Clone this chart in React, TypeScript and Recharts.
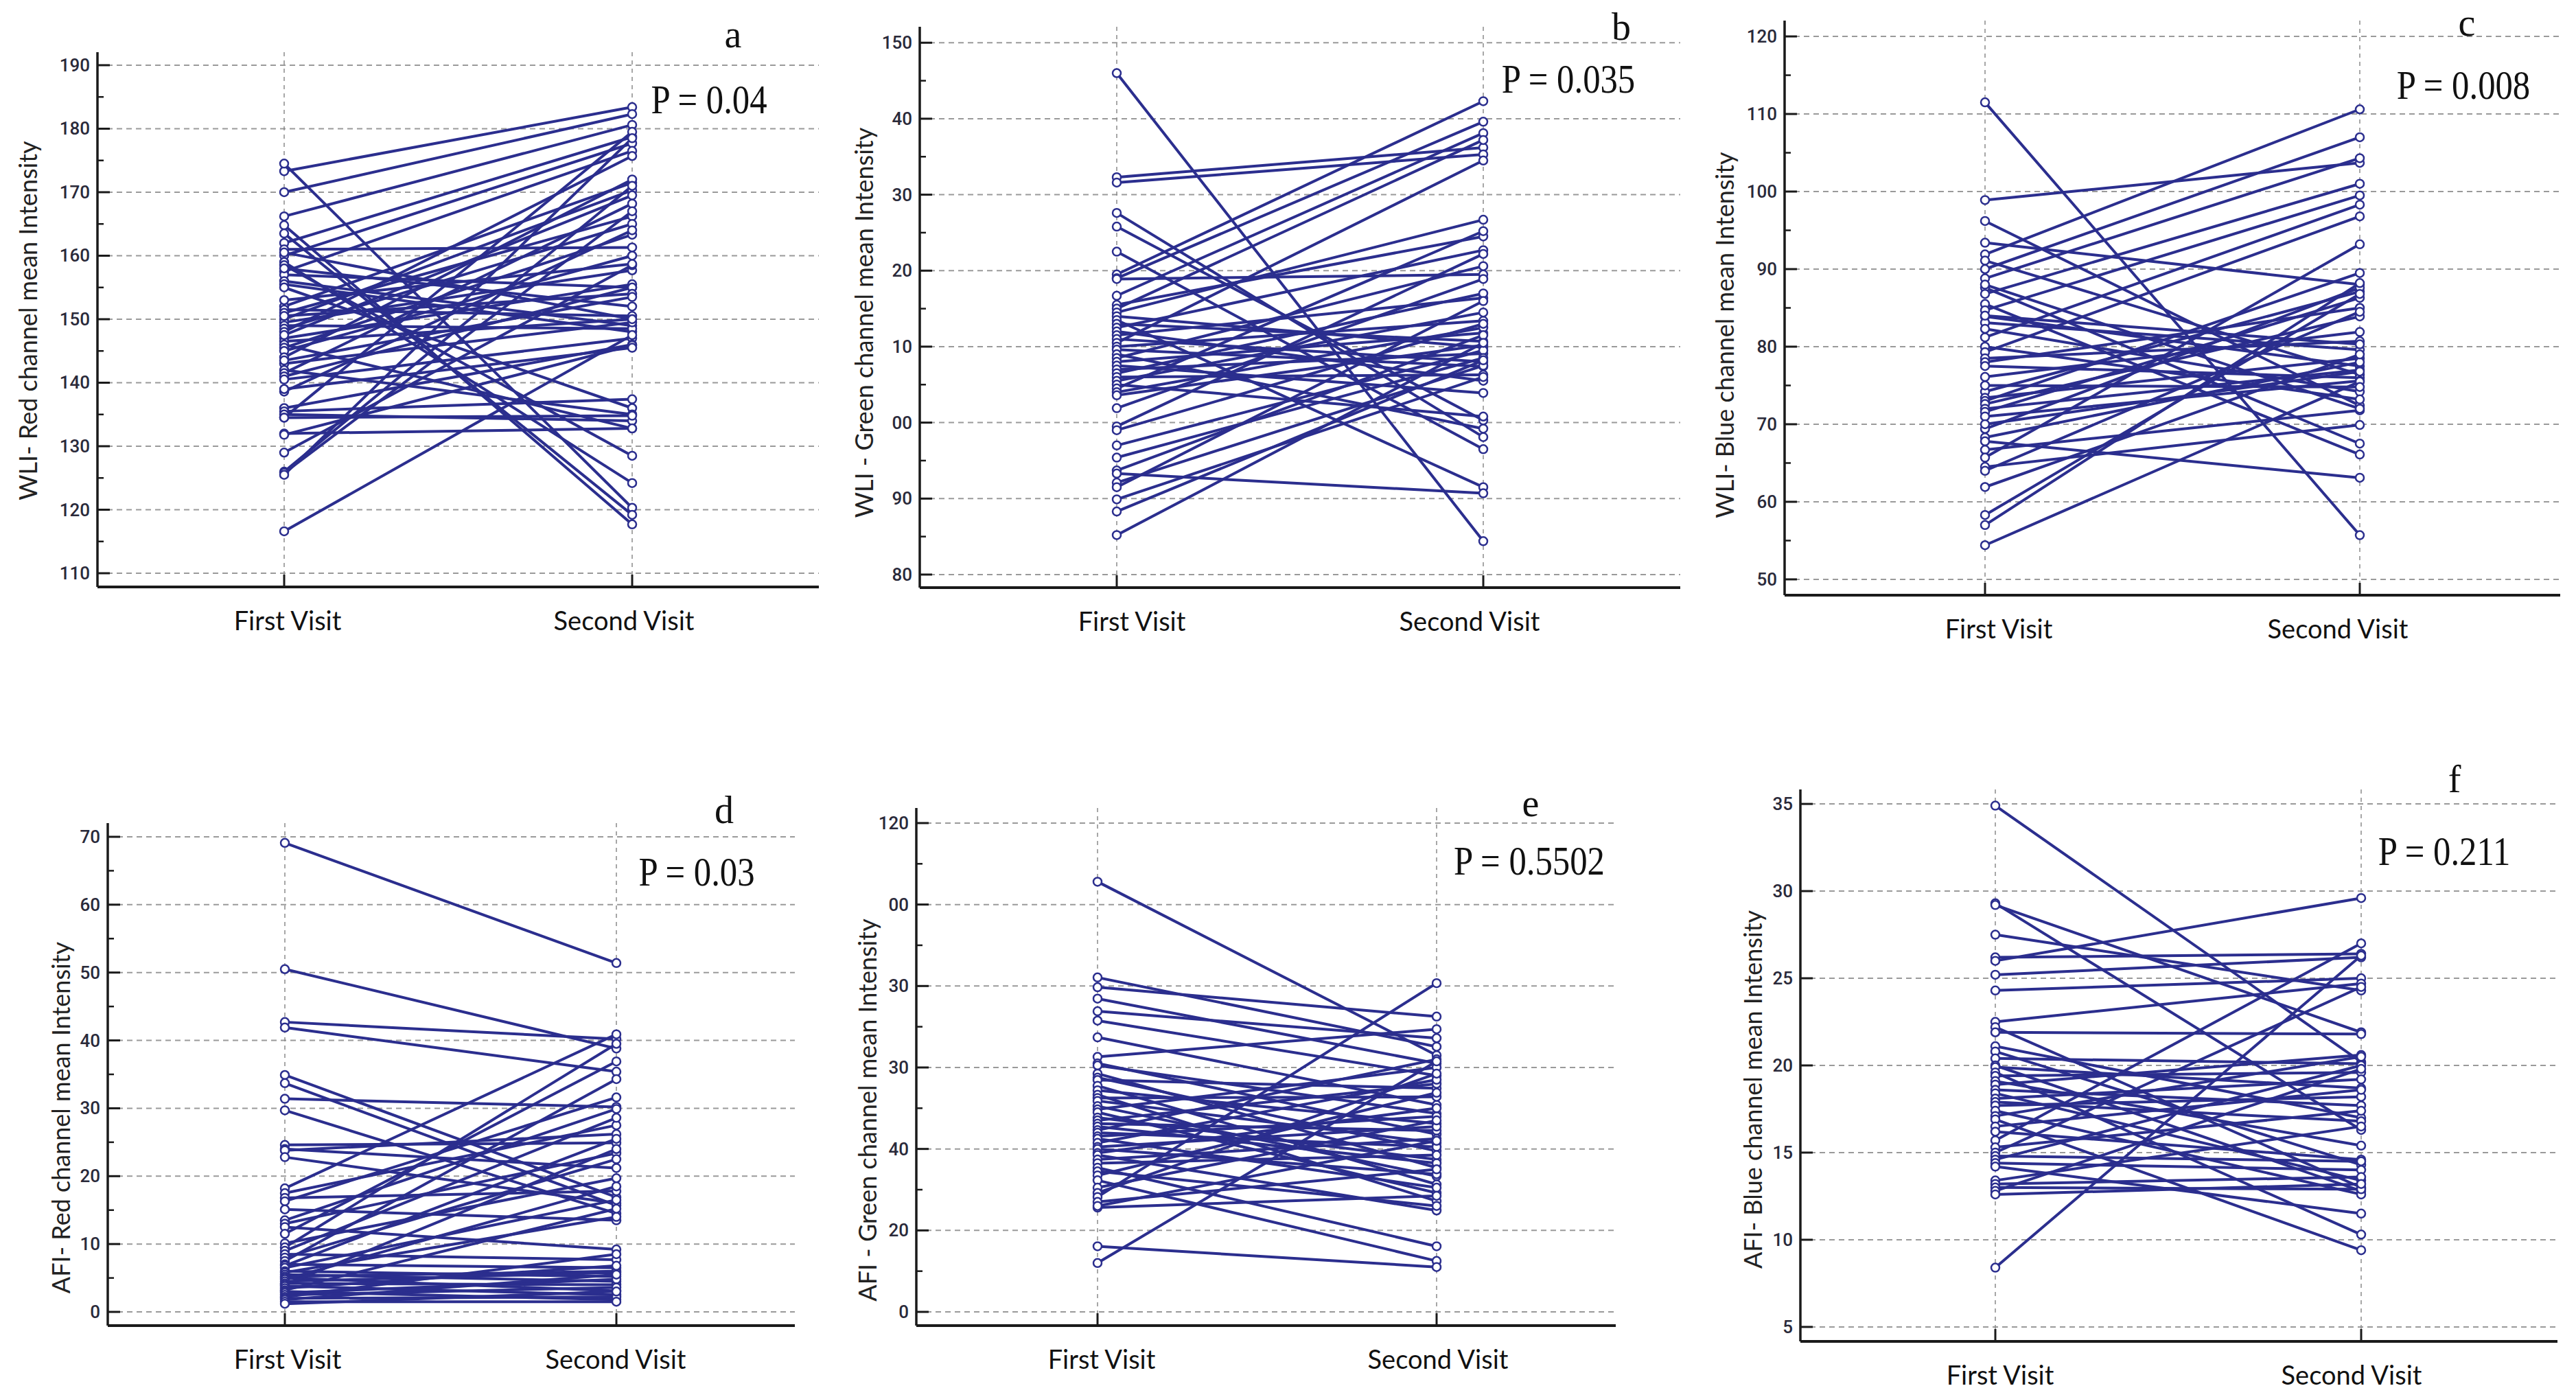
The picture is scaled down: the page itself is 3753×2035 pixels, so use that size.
import React from 'react';
import { LineChart, Line, XAxis, YAxis, CartesianGrid } from 'recharts';

// ---------------- DATA ----------------
const visitNames = ['First Visit', 'Second Visit'];

// a: WLI Red
const aFirst = [173.3, 174.5, 170, 166.2, 164.8, 163.5, 162, 161, 160, 159, 158.5, 157.5, 157, 156, 155.5, 155, 152, 151.5, 151, 150, 149.5, 149, 148.5, 148, 147, 146.5, 146, 145.5, 145, 144, 143, 142, 141.5, 141, 140.5, 138.6, 136, 135.5, 135, 134.5, 134.5, 132, 131.8, 129, 126, 125.8, 125.5, 116.6, 160.5, 158, 153, 150.5, 147.5, 143.5, 139];
const aSecond = [183.4, 120.3, 182.3, 180.6, 117.7, 119.2, 178.7, 161.3, 177.7, 124.2, 128.5, 176.5, 155, 149, 148, 136, 171.5, 150.5, 166.2, 170.3, 157.7, 148.5, 165, 175.7, 155.5, 150, 132.8, 163.3, 160, 172, 149.5, 135, 168.2, 155, 147, 164, 146, 137.4, 134, 134.8, 179.5, 132.8, 145.9, 158.5, 171, 167, 178.5, 147.5, 150, 152, 158.7, 154, 169.5, 153.5, 145.5];
const aTicks = [110, 120, 130, 140, 150, 160, 170, 180, 190];
const aTickLabels = ['110', '120', '130', '140', '150', '160', '170', '180', '190'];
const aMinor = [115, 125, 135, 145, 155, 165, 175, 185];

// b: WLI Green
const bFirst = [146, 132.3, 131.6, 127.6, 125.8, 122.5, 119.5, 119, 118.9, 116.7, 115.5, 115, 114.5, 114, 113.5, 113, 112.5, 112, 111.5, 111, 110.5, 110, 109.6, 109, 108.5, 108, 107.5, 107, 106.5, 106, 105.5, 105, 104.5, 104, 103.6, 101.9, 99.5, 99, 97, 95.4, 93.7, 93.3, 92.1, 91.5, 89.9, 88.3, 85.2];
const bSecond = [84.4, 136.2, 135.3, 98.1, 100.3, 96.5, 142.3, 139.6, 119.5, 138.1, 124.5, 137.2, 126.7, 109.9, 91.5, 110.7, 122.7, 105.5, 116.4, 108, 134.5, 113.4, 107.4, 99.2, 120.6, 111.8, 103.9, 109.1, 117, 106.3, 114.5, 100.8, 125.2, 112.5, 110.2, 118.9, 122.2, 113, 109.5, 108.5, 111.5, 90.7, 107.5, 116, 106, 108.2, 110.5];
const bTicks = [80, 90, 100, 110, 120, 130, 140, 150];
const bTickLabels = ['80', '90', '00', '10', '20', '30', '40', '150'];
const bMinor = [85, 95, 105, 115, 125, 135, 145];

// c: WLI Blue
const cFirst = [111.5, 98.9, 96.2, 93.4, 91.9, 91.1, 90, 88.8, 87.6, 86.8, 85.5, 84.7, 83.9, 83.1, 82.3, 81.2, 80, 79.3, 78.5, 78, 77.5, 76.1, 74.2, 73.4, 73, 72.6, 72, 71.6, 71, 69.4, 68.3, 67.8, 66.7, 65.7, 64.5, 64, 61.9, 58.3, 57, 54.4, 88, 84, 75, 70];
const cSecond = [55.7, 103.7, 72.4, 88, 110.6, 76.4, 107, 104.3, 67.5, 101, 66.1, 99.5, 77.5, 79.6, 74.2, 98.3, 73.2, 96.8, 80.7, 85, 76, 81.9, 87.1, 78.5, 89.5, 83.9, 77, 86.3, 75.6, 87.6, 78, 63.1, 71.8, 93.2, 69.9, 84.5, 79, 86.8, 88.2, 75.5, 72, 80.3, 74.8, 76.8];
const cTicks = [50, 60, 70, 80, 90, 100, 110, 120];
const cTickLabels = ['50', '60', '70', '80', '90', '100', '110', '120'];
const cMinor = [55, 65, 75, 85, 95, 105, 115];

// d: AFI Red
const dFirst = [69.1, 50.5, 42.7, 41.9, 34.9, 33.7, 31.4, 29.7, 24.6, 24, 23.8, 22.8, 18.2, 17.5, 16.8, 16.3, 15.1, 13.5, 13, 12.5, 11.5, 10.1, 9.5, 9, 8.5, 8, 7.5, 7, 6.8, 6.5, 6, 5.8, 5.5, 5.2, 5, 4.8, 4.5, 4.2, 4, 3.8, 3.5, 3.2, 3, 2.8, 2.5, 2.2, 2, 1.8, 1.5, 1.2];
const dSecond = [51.4, 38.8, 40.2, 35.4, 16.9, 15.7, 30.2, 14.5, 24.9, 21.2, 26.2, 16, 40.9, 27.5, 17.8, 31.6, 13.5, 29.9, 23.4, 9.2, 36.9, 19.7, 39.5, 28.6, 7.7, 22.5, 34.3, 6.5, 25.5, 16.5, 5.2, 14, 4.5, 6, 3.1, 18.5, 5.8, 4, 24, 2.5, 6.8, 15.2, 1.8, 4.8, 3.6, 8.5, 2.2, 5.5, 1.5, 3];
const dTicks = [0, 10, 20, 30, 40, 50, 60, 70];
const dTickLabels = ['0', '10', '20', '30', '40', '50', '60', '70'];
const dMinor = [5, 15, 25, 35, 45, 55, 65];

// e: AFI Green
const eFirst = [105.6, 82.1, 79.7, 76.9, 73.8, 71.5, 67.4, 62.6, 61, 60.5, 58.5, 57.5, 56.9, 55.5, 54.4, 53.3, 52.5, 51.8, 50.5, 49.7, 49, 47.7, 47, 46.2, 45.5, 44.6, 44, 43.1, 42.5, 41.5, 40.5, 40, 39, 38.5, 37.4, 36.5, 35.4, 34.5, 33.5, 32.3, 30.5, 29.2, 28.2, 27, 25.6, 26, 16.1, 12];
const eSecond = [63, 65.1, 72.5, 61, 67.2, 58, 50.8, 69.4, 43.6, 48.7, 35.4, 39.5, 54.9, 31.3, 46.2, 27.2, 52.8, 41.5, 33.3, 60, 29.2, 37.4, 56, 44.5, 36.5, 62, 40.5, 48, 30.5, 57, 45.5, 33.8, 50, 24.9, 42.5, 38.5, 16.1, 26, 53.8, 12.5, 47, 58.5, 80.7, 35, 28.5, 42, 11, 61.5];
const eTicks = [0, 20, 40, 60, 80, 100, 120];
const eTickLabels = ['0', '20', '40', '30', '30', '00', '120'];
const eMinor = [10, 30, 50, 70, 90, 110];

// f: AFI Blue
const fFirst = [34.9, 29.3, 29.2, 27.5, 26.2, 26, 25.2, 24.3, 22.5, 22.2, 21.9, 21.1, 20.8, 20.4, 20, 19.9, 19.6, 19.4, 19.1, 18.9, 18.6, 18.4, 18.1, 17.9, 17.7, 17.4, 17.1, 16.9, 16.5, 16.2, 15.7, 15.3, 15, 14.8, 14.6, 14.4, 14.2, 13.4, 13.2, 13, 12.8, 12.6, 8.4];
const fSecond = [20.2, 16.3, 21.9, 24.3, 26.4, 29.6, 26.2, 25, 24.7, 13, 21.8, 17, 14.3, 20.1, 12.8, 18.7, 10.3, 19.6, 15.4, 20.6, 17.7, 13.4, 19.2, 16.8, 18.2, 12.6, 20.5, 9.4, 18.6, 14.6, 27, 17.4, 24.5, 14.5, 20, 14, 11.5, 16.5, 13.6, 12.9, 19.8, 13.2, 26.3];
const fTicks = [5, 10, 15, 20, 25, 30, 35];
const fTickLabels = ['5', '10', '15', '20', '25', '30', '35'];
const fMinor: number[] = [];

// ---------------- STYLE / LAYOUT ----------------
const BLUE = '#2B2E8E';
const AXIS = '#1a1a1a';
const TICK_FONT = 'Roboto, "Liberation Sans", sans-serif';
const LABEL_FONT = 'Lato, "Open Sans", sans-serif';
const TITLE_FONT = 'Lato, "Open Sans", sans-serif';
const SERIF = '"Liberation Serif", "Times New Roman", serif';

type Panel = {
  first: number[]; second: number[]; ticks: number[]; tickLabels: string[]; minor: number[];
  title: string; letter: string; p: string;
  L: number; R: number; T: number; B: number; xFirst: number; xSecond: number;
  yMin: number; yMax: number;
  titlePos: [number, number]; letterPos: [number, number]; pPos: [number, number];
  labelDx: [number, number];
};

const panels: Panel[] = [
  { first: aFirst, second: aSecond, ticks: aTicks, tickLabels: aTickLabels, minor: aMinor,
    title: 'WLI- Red channel mean Intensity', letter: 'a', p: 'P = 0.04',
    L: 142, R: 1193, T: 76, B: 855, xFirst: 414, xSecond: 921, yMin: 107.84, yMax: 192.05,
    titlePos: [40, 467], letterPos: [1068, 50], pPos: [1033, 145], labelDx: [5, -12] },
  { first: bFirst, second: bSecond, ticks: bTicks, tickLabels: bTickLabels, minor: bMinor,
    title: 'WLI - Green channel mean Intensity', letter: 'b', p: 'P = 0.035',
    L: 1340, R: 2448, T: 39, B: 856, xFirst: 1627, xSecond: 2161, yMin: 78.28, yMax: 152.1,
    titlePos: [1258, 470], letterPos: [2362, 39], pPos: [2285, 115], labelDx: [22, -20] },
  { first: cFirst, second: cSecond, ticks: cTicks, tickLabels: cTickLabels, minor: cMinor,
    title: 'WLI- Blue channel mean Intensity', letter: 'c', p: 'P = 0.008',
    L: 2600, R: 3730, T: 30, B: 867, xFirst: 2892, xSecond: 3438, yMin: 47.96, yMax: 122.04,
    titlePos: [2512, 488], letterPos: [3594, 33], pPos: [3589, 124], labelDx: [20, -32] },
  { first: dFirst, second: dSecond, ticks: dTicks, tickLabels: dTickLabels, minor: dMinor,
    title: 'AFI- Red channel mean Intensity', letter: 'd', p: 'P = 0.03',
    L: 157, R: 1158, T: 1199, B: 1931, xFirst: 415, xSecond: 898, yMin: -2.02, yMax: 72.02,
    titlePos: [88, 1628], letterPos: [1055, 1180], pPos: [1015, 1270], labelDx: [4, -1] },
  { first: eFirst, second: eSecond, ticks: eTicks, tickLabels: eTickLabels, minor: eMinor,
    title: 'AFI - Green channel mean Intensity', letter: 'e', p: 'P = 0.5502',
    L: 1335, R: 2354, T: 1177, B: 1931, xFirst: 1599, xSecond: 2093, yMin: -3.37, yMax: 123.7,
    titlePos: [1263, 1617], letterPos: [2230, 1170], pPos: [2228, 1254], labelDx: [6, 2] },
  { first: fFirst, second: fSecond, ticks: fTicks, tickLabels: fTickLabels, minor: fMinor,
    title: 'AFI- Blue channel mean Intensity', letter: 'f', p: 'P = 0.211',
    L: 2623, R: 3726, T: 1150, B: 1954, xFirst: 2907, xSecond: 3440, yMin: 4.17, yMax: 35.83,
    titlePos: [2553, 1587], letterPos: [3576, 1135], pPos: [3561, 1240], labelDx: [7, -14] },
];

const PAD_L = 140, PAD_T = 60, PAD_R = 20, PAD_B = 140;

function buildRows(first: number[], second: number[]) {
  const r1: Record<string, number> = { x: 1 };
  const r2: Record<string, number> = { x: 2 };
  first.forEach((v, i) => { r1['s' + i] = v; });
  second.forEach((v, i) => { r2['s' + i] = v; });
  return [r1, r2];
}

function makeYTick(majors: number[], labels: string[]) {
  return (props: any) => {
    const { x, y, payload } = props;
    const idx = majors.findIndex((m) => Math.abs(m - payload.value) < 1e-6);
    if (idx < 0) {
      return <line x1={x} x2={x + 9} y1={y} y2={y} stroke={AXIS} strokeWidth={2.5} />;
    }
    return (
      <g>
        <line x1={x} x2={x + 18} y1={y} y2={y} stroke={AXIS} strokeWidth={3} />
        <text x={x - 11} y={y} textAnchor="end" dominantBaseline="central"
          fontFamily={TICK_FONT} fontSize={26} fontWeight={500} fill="#2a2a3a">{labels[idx]}</text>
      </g>
    );
  };
}

function makeXTick(dx: [number, number]) {
  return (props: any) => {
    const { x, y, payload } = props;
    const i = payload.value === 1 ? 0 : 1;
    return (
      <g>
        <line x1={x} x2={x} y1={y} y2={y - 18} stroke={AXIS} strokeWidth={3} />
        <text x={x + dx[i]} y={y + 48} textAnchor="middle" dominantBaseline="central"
          fontFamily={LABEL_FONT} fontSize={38} fill="#111">{visitNames[i]}</text>
      </g>
    );
  };
}

function PanelChart({ p }: { p: Panel }) {
  const width = p.R - p.L + PAD_L + PAD_R;
  const height = p.B - p.T + PAD_T + PAD_B;
  const unit = p.xSecond - p.xFirst;
  const xlo = 1 - (p.xFirst - p.L) / unit;
  const xhi = 2 + (p.R - p.xSecond) / unit;
  const rows = buildRows(p.first, p.second);
  const allTicks = [...p.ticks, ...p.minor].sort((a, b) => a - b);
  return (
    <div style={{ position: 'absolute', left: p.L - PAD_L, top: p.T - PAD_T, width, height }}>
      <LineChart width={width} height={height} data={rows}
        margin={{ top: PAD_T, right: PAD_R, left: 40, bottom: 40 }}>
        <CartesianGrid horizontal={true} vertical={false} horizontalValues={p.ticks}
          stroke="#9a9a9a" strokeWidth={2} strokeDasharray="8 6" />
        <CartesianGrid horizontal={false} vertical={true} verticalValues={[1, 2]}
          stroke="#8a8a8a" strokeWidth={1.5} strokeDasharray="6 6" />
        <XAxis type="number" dataKey="x" domain={[xlo, xhi]} ticks={[1, 2]} height={100}
          allowDataOverflow tickSize={0} tickMargin={0} tickLine={false}
          axisLine={{ stroke: AXIS, strokeWidth: 4 }} tick={makeXTick(p.labelDx)} />
        <YAxis type="number" domain={[p.yMin, p.yMax]} ticks={allTicks} width={100}
          allowDataOverflow interval={0} tickSize={0} tickMargin={0} tickLine={false}
          axisLine={{ stroke: AXIS, strokeWidth: 3.5 }} tick={makeYTick(p.ticks, p.tickLabels)} />
        {p.first.map((_, i) => (
          <Line key={i} type="linear" dataKey={'s' + i} stroke={BLUE} strokeWidth={4}
            isAnimationActive={false} activeDot={false}
            dot={{ r: 6, stroke: BLUE, strokeWidth: 2.5, fill: '#fff' }} />
        ))}
      </LineChart>
    </div>
  );
}

function Overlay({ p }: { p: Panel }) {
  return (
    <>
      <div style={{ position: 'absolute', left: p.titlePos[0], top: p.titlePos[1],
        transform: 'translate(-50%, -50%) rotate(-90deg)', whiteSpace: 'nowrap',
        fontFamily: TITLE_FONT, fontSize: 36, color: '#222', lineHeight: 1 }}>{p.title}</div>
      <div style={{ position: 'absolute', left: p.letterPos[0], top: p.letterPos[1],
        transform: 'translate(-50%, -50%)', fontFamily: SERIF, fontSize: 56, color: '#111',
        lineHeight: 1 }}>{p.letter}</div>
      <div style={{ position: 'absolute', left: p.pPos[0], top: p.pPos[1],
        transform: 'translate(-50%, -50%) scaleX(0.86)', whiteSpace: 'nowrap', fontFamily: SERIF,
        fontSize: 59, color: '#111', lineHeight: 1 }}>{p.p}</div>
    </>
  );
}

export default function App() {
  return (
    <div style={{ position: 'absolute', left: 0, top: 0, width: 3753, height: 2035,
      background: '#ffffff', overflow: 'hidden' }}>
      {panels.map((p, i) => <PanelChart key={'c' + i} p={p} />)}
      {panels.map((p, i) => <Overlay key={'o' + i} p={p} />)}
    </div>
  );
}
